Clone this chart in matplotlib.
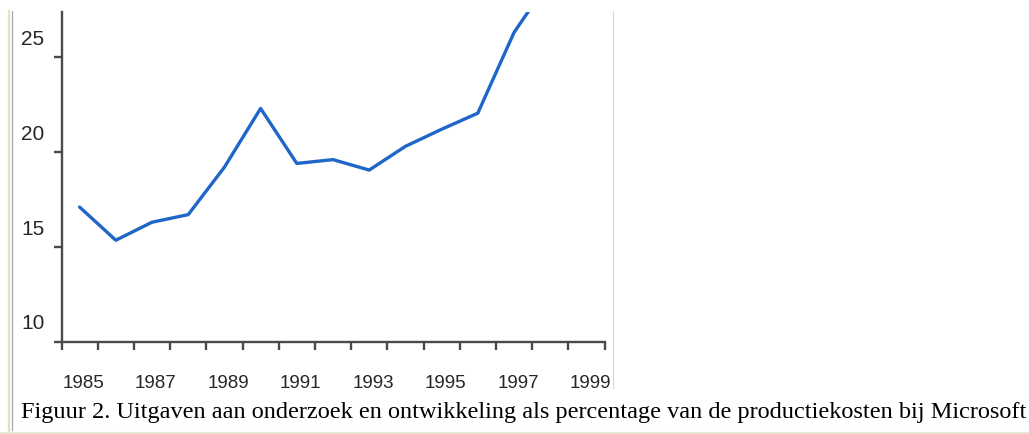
import matplotlib
matplotlib.use("Agg")
import matplotlib.pyplot as plt
import numpy as np
from matplotlib.lines import Line2D
from matplotlib.transforms import ScaledTranslation, Bbox, TransformedBbox

# ---- data ----
years = [1985, 1986, 1987, 1988, 1989, 1990, 1991, 1992, 1993, 1994, 1995, 1996, 1997, 1998]
values = [17.1, 15.35, 16.3, 16.7, 19.2, 22.3, 19.4, 19.6, 19.05, 20.3, 21.2, 22.05, 26.3, 29.1]
y_ticks = [10, 15, 20, 25]
x_label_years = [1985, 1987, 1989, 1991, 1993, 1995, 1997, 1999]
caption = ("Figuur 2. Uitgaven aan onderzoek en ontwikkeling als percentage "
           "van de productiekosten bij Microsoft")

W, H = 1029, 434
DPI = 100
fig = plt.figure(figsize=(W / DPI, H / DPI), dpi=DPI)
fig.patch.set_facecolor("white")

def fx(px):
    return px / W

def fy(py):  # py measured from top
    return (H - py) / H

ax = fig.add_axes([fx(61.5), fy(341.7), fx(604.5) - fx(61.5), fy(11.7) - fy(341.7)])
ax.set_facecolor("white")
ax.plot(years, values, color="#1f66c9", lw=2.4, solid_joinstyle="round", solid_capstyle="round")
ax.set_xlim(1984.5, 1999.5)
ax.set_ylim(10, 27.4)

axis_col = "#4a4a4a"
for s in ("top", "right"):
    ax.spines[s].set_visible(False)
for s in ("left", "bottom"):
    ax.spines[s].set_color(axis_col)
    ax.spines[s].set_linewidth(1.7)

ax.set_xticks(np.arange(1984.5, 2000, 1.0))
ax.set_yticks(y_ticks)
ax.tick_params(direction="out", length=6, width=1.7, color=axis_col,
               labelbottom=False, labelleft=False)

num_font = ["Liberation Sans", "DejaVu Sans"]
txt_col = "#262626"

# y labels (sit above their tick marks)
for v in y_ticks:
    tr = ax.get_yaxis_transform() + ScaledTranslation(-17 / DPI, 12.3 / DPI, fig.dpi_scale_trans)
    ax.text(0, v, str(v), transform=tr, ha="right", va="baseline",
            fontsize=15, color=txt_col, family=num_font)

# x labels (shifted slightly right of the data positions)
clip = TransformedBbox(Bbox([[0, 0], [fx(613), 1]]), fig.transFigure)
for yr in x_label_years:
    tr = ax.get_xaxis_transform() + ScaledTranslation(4 / DPI, -46.3 / DPI, fig.dpi_scale_trans)
    t = ax.text(yr, 0, str(yr), transform=tr, ha="center", va="baseline",
                fontsize=13.5, color=txt_col, family=num_font, clip_on=True)
    t.set_clip_path(None)
    t.set_clip_box(clip)

# frame lines
fig.add_artist(Line2D([fx(9), fx(9)], [fy(11), fy(434)], transform=fig.transFigure,
                      color="#e6dfc8", lw=1.6))
fig.add_artist(Line2D([fx(11.5), fx(11.5)], [fy(11), fy(430)], transform=fig.transFigure,
                      color="#a8a8a8", lw=0.9))
fig.add_artist(Line2D([fx(0), fx(1029)], [fy(432.5), fy(432.5)], transform=fig.transFigure,
                      color="#ece6d4", lw=2.2))
fig.add_artist(Line2D([fx(613), fx(613)], [fy(11), fy(388)], transform=fig.transFigure,
                      color="#d9d9d9", lw=0.9))

fig.text(fx(20.7), fy(418.3), caption, fontsize=17.5, family=["Liberation Serif", "DejaVu Serif"],
         ha="left", va="baseline", color="black")

fig.savefig("out.png", dpi=DPI, facecolor="white")
